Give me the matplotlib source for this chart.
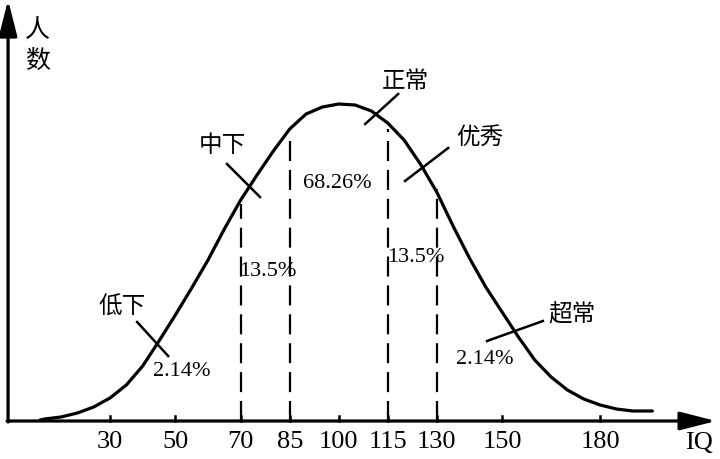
import numpy as np
import matplotlib.pyplot as plt

# curve (IQ, relative number of people)
curve_iq = [8.6, 10, 15, 20, 25, 30, 35, 40, 45, 50, 55, 60, 65, 70, 75, 80, 85,
            90, 95, 100, 105, 110, 115, 120, 125, 130, 135, 140, 145, 150, 155,
            160, 165, 170, 175, 180, 185, 190, 196]
curve_h = [1, 2, 4, 8, 14, 23, 36, 55, 80, 106, 133, 161, 192, 221, 246, 270, 292,
           307, 314, 317, 316, 310, 298, 281, 257, 229, 195, 163, 134, 109, 84,
           61, 44, 31, 22, 16, 12, 10, 10]

tick_vals = [30, 50, 70, 85, 100, 115, 130, 150, 180]
dash_iq = [70, 85, 115, 130]
dash_top = [217, 285, 292, 232]

zone_names = ['低下', '中下', '正常', '优秀', '超常']
pct_labels = ['2.14%', '13.5%', '68.26%', '13.5%', '2.14%']

serif = 'Liberation Serif'
cjk = ['Noto Sans CJK SC', 'DejaVu Sans']

fig = plt.figure(figsize=(7.2, 4.6), dpi=100)
ax = fig.add_axes([0, 0, 1, 1])
ax.set_xlim(-3.67, 216.7)
ax.set_ylim(-38, 422)
ax.axis('off')

# axes with arrows
ax.annotate('', xy=(215.5, 0), xytext=(-1.5, 0), annotation_clip=False,
            arrowprops=dict(arrowstyle='-|>,head_length=1.1,head_width=0.28',
                            lw=2.3, color='k', mutation_scale=20, shrinkA=0, shrinkB=0))
ax.annotate('', xy=(-1.2, 421), xytext=(-1.2, -1), annotation_clip=False,
            arrowprops=dict(arrowstyle='-|>,head_length=1.1,head_width=0.28',
                            lw=2.3, color='k', mutation_scale=20, shrinkA=0, shrinkB=0))

# curve
ax.plot(curve_iq, curve_h, color='k', lw=2.3, solid_capstyle='round',
        solid_joinstyle='round')

# ticks + labels
for v in tick_vals:
    ax.plot([v, v], [0, 5], color='k', lw=1.8)
    ax.text(v, -20, str(v), ha='center', va='center', fontsize=19,
            family=serif)
ax.text(210.3, -21, 'IQ', ha='center', va='center', fontsize=19, family=serif)

# dashed boundaries
for x, top in zip(dash_iq, dash_top):
    ax.plot([x, x], [0, top], color='k', lw=1.6, linestyle=(0, (9, 4)))

# leader lines crossing the curve
leaders = [((38.3, 99), (47.8, 65)),
           ((65.8, 257), (75.9, 224)),
           ((108.1, 297), (118.2, 327)),
           ((120.3, 240), (133.5, 273)),
           ((145.4, 80), (162.5, 100))]
for (x0, y0), (x1, y1) in leaders:
    ax.plot([x0, x1], [y0, y1], color='k', lw=1.8)

# zone names
name_pos = [(33.7, 115), (64.3, 277), (120.4, 340), (143.3, 284), (171.4, 107)]
for name, (x, y) in zip(zone_names, name_pos):
    ax.text(x, y, name, ha='center', va='center', fontsize=17, family=cjk)

# percentages
pct_pos = [(52.0, 50), (78.4, 151), (99.5, 239), (123.7, 164), (144.8, 62)]
for lab, (x, y) in zip(pct_labels, pct_pos):
    ax.text(x, y, lab, ha='center', va='center', fontsize=16, family=serif)

# y label, stacked vertically
ax.text(7.7, 392, '人', ha='center', va='center', fontsize=18, family=cjk)
ax.text(7.7, 361, '数', ha='center', va='center', fontsize=18, family=cjk)

fig.savefig('out.png', dpi=100)
